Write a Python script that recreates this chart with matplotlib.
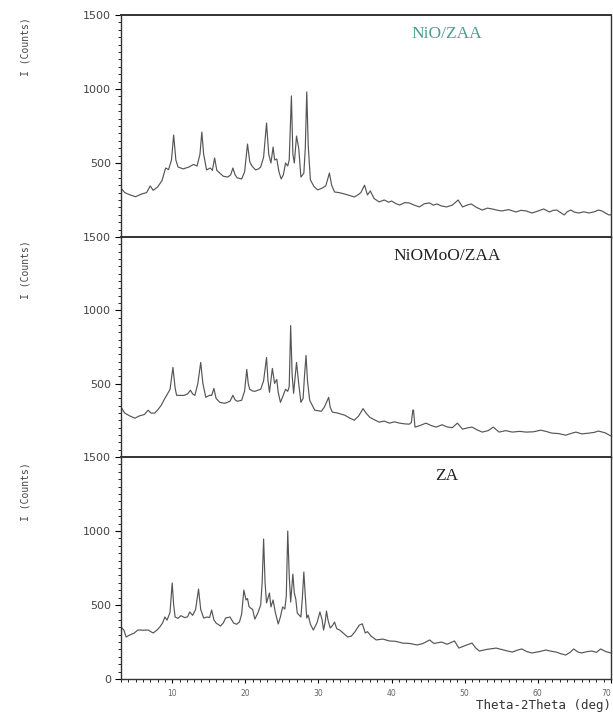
#XRD patterns of NiO/ZAA, NiOMoO/ZAA and ZA stacked in three panels

import numpy as np
import matplotlib
matplotlib.use('Agg')
import matplotlib.pyplot as plt
from matplotlib.ticker import MultipleLocator

#2theta (deg) and intensity (counts)
tt_nio = [3.0, 3.5, 4.2, 5.0, 5.8, 6.5, 7.0, 7.4, 8.0, 8.6, 9.1, 9.5, 9.9, 10.2, 10.5, 10.8,
          11.5, 12.0, 12.3, 12.9, 13.4, 13.8, 14.05, 14.3, 14.7, 15.2, 15.5, 15.8, 16.1, 16.5,
          17.0, 17.6, 18.0, 18.3, 18.6, 18.9, 19.5, 19.9, 20.3, 20.6, 20.9, 21.4, 21.8, 22.1,
          22.5, 22.9, 23.2, 23.5, 23.8, 24.0, 24.3, 24.6, 24.9, 25.2, 25.5, 25.8, 26.0, 26.3,
          26.5, 26.7, 27.0, 27.3, 27.6, 28.0, 28.2, 28.4, 28.6, 28.9, 29.4, 29.9, 30.5, 31.0,
          31.5, 31.8, 32.2, 32.8, 33.6, 34.3, 34.9, 35.4, 35.8, 36.3, 36.7, 37.1, 37.6, 38.3,
          39.0, 39.6, 40.0, 40.6, 41.1, 41.8, 42.4, 43.1, 43.8, 44.5, 45.2, 45.7, 46.2, 46.8,
          47.5, 48.3, 49.1, 49.7, 50.3, 50.9, 51.6, 52.4, 53.1, 53.8, 54.5, 55.1, 56.0, 57.0,
          57.7, 58.4, 59.2, 60.0, 60.8, 61.6, 62.1, 62.6, 63.1, 63.6, 64.0, 64.5, 65.0, 65.6,
          66.3, 67.0, 67.7, 68.3, 68.8, 69.3, 69.7, 70.0]
I_nio = [330, 300, 285, 272, 290, 300, 345, 315, 338, 380, 466, 455, 520, 689, 520, 473,
         460, 468, 473, 490, 480, 560, 709, 560, 453, 466, 450, 534, 450, 432,
         410, 405, 420, 466, 420, 399, 392, 440, 628, 510, 480, 453, 460, 473,
         540, 770, 560, 500, 608, 520, 527, 440, 392, 420, 500, 480, 520, 953,
         560, 500, 682, 600, 405, 430, 600, 980, 620, 385, 340, 318, 330, 345,
         432, 350, 304, 300, 290, 280, 270, 285, 300, 350, 284, 311, 260, 237,
         250, 235, 243, 225, 216, 232, 230, 215, 203, 225, 230, 215, 223, 210,
         203, 215, 250, 203, 215, 223, 200, 182, 195, 189, 180, 176, 185, 169,
         180, 176, 162, 175, 189, 169, 180, 182, 165, 149, 170, 182, 168, 162,
         170, 162, 170, 182, 175, 160, 149, 150]

tt_nimo = [3.0, 3.5, 4.2, 4.9, 5.5, 6.2, 6.7, 7.1, 7.6, 8.0, 8.5, 9.0, 9.4, 9.7, 10.1, 10.4,
           10.6, 11.1, 11.6, 12.1, 12.5, 12.8, 13.1, 13.5, 13.9, 14.2, 14.6, 15.1, 15.4, 15.7,
           16.0, 16.5, 17.2, 17.9, 18.3, 18.6, 18.9, 19.5, 19.9, 20.2, 20.4, 20.6, 21.0, 21.3,
           21.7, 22.1, 22.5, 22.9, 23.1, 23.3, 23.7, 24.0, 24.3, 24.5, 24.8, 25.1, 25.5, 25.8,
           26.0, 26.2, 26.4, 26.6, 27.0, 27.3, 27.6, 27.9, 28.1, 28.3, 28.5, 28.8, 29.5, 30.0,
           30.4, 30.8, 31.4, 31.6, 31.9, 32.6, 33.6, 34.3, 34.9, 35.5, 36.1, 36.5, 37.0, 37.6,
           38.3, 39.0, 39.7, 40.4, 41.1, 41.8, 42.4, 42.7, 42.9, 43.0, 43.2, 43.9, 44.7, 45.4,
           46.1, 46.9, 47.6, 48.3, 49.0, 49.7, 50.3, 51.0, 51.7, 52.4, 53.2, 53.9, 54.7, 55.6,
           56.5, 57.5, 58.4, 59.4, 60.4, 61.1, 61.9, 62.8, 63.8, 64.5, 65.2, 66.0, 67.0, 67.7,
           68.3, 69.2, 70.0]
I_nimo = [340, 300, 280, 265, 280, 290, 319, 300, 299, 320, 353, 400, 434, 460, 611, 470,
          421, 420, 420, 430, 455, 430, 420, 500, 645, 500, 407, 421, 420, 468,
          400, 373, 366, 380, 421, 390, 380, 387, 450, 597, 500, 462, 450, 448,
          455, 462, 520, 679, 520, 441, 604, 502, 529, 440, 373, 410, 462, 448,
          480, 896, 560, 434, 645, 500, 373, 400, 560, 693, 520, 387, 319, 315,
          312, 340, 407, 340, 306, 300, 285, 265, 251, 280, 330, 300, 272, 255,
          238, 245, 231, 240, 231, 226, 224, 235, 319, 320, 204, 215, 231, 215,
          204, 220, 205, 200, 231, 190, 198, 204, 185, 170, 180, 204, 170, 180,
          170, 175, 170, 172, 183, 175, 163, 160, 149, 160, 170, 158, 163, 168,
          177, 165, 143]

tt_za = [3.0, 3.4, 3.7, 4.3, 4.8, 5.3, 6.0, 6.7, 7.4, 7.9, 8.3, 8.7, 9.0, 9.3, 9.7, 10.0,
         10.2, 10.4, 10.8, 11.2, 11.7, 12.1, 12.4, 12.8, 13.2, 13.6, 13.9, 14.3, 14.8, 15.1,
         15.4, 15.7, 16.0, 16.6, 17.0, 17.3, 17.9, 18.4, 18.8, 19.2, 19.5, 19.8, 20.1, 20.3,
         20.5, 20.7, 21.0, 21.3, 21.7, 22.1, 22.3, 22.5, 22.7, 22.9, 23.3, 23.5, 23.8, 24.1,
         24.5, 24.8, 25.1, 25.4, 25.6, 25.8, 26.0, 26.2, 26.5, 26.7, 26.9, 27.1, 27.6, 27.8,
         28.0, 28.2, 28.4, 28.6, 28.9, 29.3, 29.8, 30.2, 30.5, 30.7, 30.9, 31.1, 31.3, 31.6,
         31.9, 32.2, 32.5, 32.9, 33.4, 34.0, 34.5, 35.0, 35.6, 36.0, 36.4, 36.7, 37.2, 37.9,
         38.8, 39.7, 40.5, 41.5, 42.5, 43.5, 44.3, 45.2, 45.8, 46.8, 47.6, 48.6, 49.2, 50.0,
         51.0, 51.5, 52.0, 53.0, 54.3, 55.4, 56.5, 57.2, 57.8, 58.5, 59.2, 60.2, 61.1, 61.8,
         62.5, 63.2, 63.8, 64.4, 64.9, 65.5, 66.0, 66.7, 67.4, 68.0, 68.6, 69.3, 70.0]
I_za = [351, 330, 284, 300, 310, 331, 330, 331, 311, 330, 351, 380, 419, 398, 450, 649,
        500, 419, 410, 428, 415, 420, 453, 430, 470, 608, 470, 412, 419, 415,
        466, 400, 378, 358, 380, 412, 419, 378, 370, 385, 440, 601, 534, 544,
        490, 480, 470, 405, 445, 500, 650, 946, 650, 514, 581, 487, 534, 450,
        372, 420, 487, 473, 560, 1000, 700, 520, 709, 581, 540, 446, 419, 550,
        723, 560, 412, 432, 370, 331, 380, 453, 400, 331, 380, 459, 400, 345,
        360, 385, 340, 331, 310, 284, 290, 320, 365, 373, 311, 320, 290, 264,
        270, 257, 255, 243, 240, 230, 240, 264, 240, 250, 235, 257, 209, 225,
        243, 210, 189, 200, 209, 195, 182, 195, 203, 185, 176, 185, 196, 188,
        182, 170, 162, 180, 203, 182, 176, 185, 189, 180, 203, 185, 176]

samples = ['NiO/ZAA', 'NiOMoO/ZAA', 'ZA']
title_colors = ['#4a9d94', '#222222', '#222222']
series = [(tt_nio, I_nio), (tt_nimo, I_nimo), (tt_za, I_za)]
xticks = [10, 20, 30, 40, 50, 60, 70]

fig = plt.figure(figsize=(6.13, 7.14), dpi=100)

# panel boxes in figure fraction (left, bottom, width, height)
boxes = [(0.1974, 0.6681, 0.7993, 0.3109),
         (0.1974, 0.3599, 0.7993, 0.3082),
         (0.1974, 0.0490, 0.7993, 0.3109)]
ylab_y = [1 - 47/714, 1 - 270/714, 1 - 492/714]

for i in range(3):
    ax = fig.add_axes(boxes[i])
    x, y = series[i]
    ax.plot(x, y, color='#555555', lw=0.85)
    ax.set_xlim(3, 70)
    ax.set_ylim(0, 1500)
    if i < 2:
        ax.set_yticks([500, 1000, 1500])
        ax.tick_params(axis='x', which='both', bottom=False, labelbottom=False)
    else:
        ax.set_yticks([0, 500, 1000, 1500])
        ax.set_xticks(xticks)
        ax.xaxis.set_minor_locator(MultipleLocator(1))
        ax.tick_params(axis='x', which='major', length=3, labelsize=5.5, labelcolor='#666666', pad=4)
        ax.tick_params(axis='x', which='minor', length=2)
        ax.get_xticklabels()[-1].set_ha('right')
    ax.yaxis.set_minor_locator(MultipleLocator(50))
    ax.tick_params(axis='y', which='major', length=4, labelsize=8, labelcolor='#444444', pad=3)
    ax.tick_params(axis='y', which='minor', length=2)
    for s in ax.spines.values():
        s.set_color('#333333')
        s.set_linewidth(1.0)
    ax.spines['top'].set_linewidth(1.4)
    ax.text(0.665, 0.915, samples[i], transform=ax.transAxes, ha='center', va='center',
            fontsize=12.5, family='Liberation Serif', color=title_colors[i])
    fig.text(25/613, ylab_y[i], 'I (Counts)', rotation=90, ha='center', va='center',
             fontsize=7, family='DejaVu Sans Mono', color='#444444')

fig.text(611/613, 1 - 706/714, 'Theta-2Theta (deg)', ha='right', va='center',
         fontsize=9, family='DejaVu Sans Mono', color='#333333')

plt.savefig('out.png', dpi=100)
